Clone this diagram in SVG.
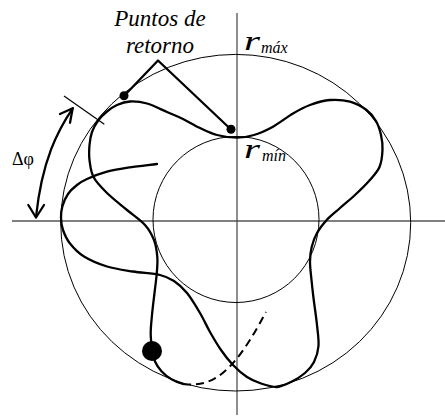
<svg xmlns="http://www.w3.org/2000/svg" width="445" height="417" viewBox="0 0 445 417">
<style>
.thin{fill:none;stroke:#000;stroke-width:1}
.thick{fill:none;stroke:#000;stroke-width:2.3;stroke-linecap:round;stroke-linejoin:round}
.dash{fill:none;stroke:#000;stroke-width:2;stroke-dasharray:8 5}
text{font-family:'Liberation Serif','Times New Roman',serif;fill:#000}
.lbl{font-style:italic}
</style>
<rect width="445" height="417" fill="#fff"/>
<g id="axes">
<line x1="12" y1="221" x2="445" y2="221" stroke="#7f7f7f" stroke-width="2"/>
<line x1="237" y1="13" x2="237" y2="415" stroke="#444" stroke-width="1.2"/>
</g>
<g id="circles">
<ellipse id="rmax-circle" class="thin" cx="235.7" cy="222.7" rx="175" ry="168.3"/>
<circle id="rmin-circle" class="thin" cx="236" cy="219.5" r="83"/>
</g>
<g id="orbit">
<path class="thick" d="M152,351 C151.6,345 150.7,339 150.7,333 S151.4,321.7 152,315 S153.7,299.8 154.5,293 S156.2,280 156.7,274 S157.8,262.7 157.3,257 S156.1,245.3 154,240 S149.5,230 145,225 S133.3,215.3 127,210 S112.6,198.5 107,193 S96.4,182.5 93.5,177 S90.2,165.3 89.5,160 S89.1,149.7 89.5,145 S90.5,136.2 92,132 S96,123.4 98.5,120 S103.9,114 107,111.5 S113.2,106.7 117,105 S125,101.75 130,101.5 S140.8,101.75 147,103.5 S161,109.4 167,112 S177.5,116.3 183,119 S194.3,125.3 200,128 S210.8,133.4 217,135 S230.8,137.7 237,137.7 S248,136.8 254,135 S266.5,130.3 273,126.7 S286.8,117.1 293,113.5 S303.8,107.25 310,105 S323.3,100.55 330,100 S343.9,100 350,101.7 S362.2,106.8 366.5,110 S373.6,116.8 376,121 S379.9,130.2 381,135 S382.75,144.7 382.5,150 S381.75,161.8 379.5,167 S373.1,176.3 369,181 S359.8,190.5 355,195 S344.7,203.8 340,208 S330.5,215.8 326.7,220 S319.5,228.5 317,233 S312.9,242.2 311.7,247 S310,256.5 310,262 S310.9,274 311.5,280 S312.6,290.5 313.5,298 S316.2,317 317,325 S319,339.8 318.5,346 S316.25,357.5 314,362 S308.8,369.7 305,373 S295.7,379.7 291,382 S282,386.75 277,387 S266,385.2 261,383.5 S251.7,380.1 247,377 S237.3,369.5 233,365 S224.8,355.5 221,350 S213.5,338.2 210,332 S203.8,319.5 200,313 S191.3,298.3 187,293 S178.5,284 174,281 S166.8,276.6 160,275 S141.8,272.9 133,271.5 S115.2,269 107,266.5 S90.2,260.3 84,256.5 S73.5,247.9 70,243.5 S64.5,234.25 63,230 S61.1,222 61,218 S61.3,210 62.5,206 S65.6,197.5 68,194 S73.8,187.5 77,185 S82,181.2 87,179 S99.8,173.65 107,171.7 S121.7,168.6 130,167.3 S148,165.1 157,164"/>
<path class="thick" d="M152,351 C154,366 165,379 183,384"/>
<path class="dash" d="M183,384 C215,388 235,370 266,312"/>
<circle cx="152" cy="351" r="10" fill="#000"/>
</g>
<g id="turning-points">
<polyline class="thick" points="124,96 158,60.5 231,129.5"/>
<circle cx="124" cy="95.7" r="4.5" fill="#000"/>
<circle cx="231" cy="129.3" r="4.5" fill="#000"/>
<text class="lbl" x="160" y="26" font-size="23" text-anchor="middle">Puntos de</text>
<text class="lbl" x="160" y="52.5" font-size="23" text-anchor="middle">retorno</text>
</g>
<g id="delta-phi">
<line x1="64" y1="96" x2="104.3" y2="124.3" stroke="#000" stroke-width="1.2"/>
<path class="thick" stroke-width="2.6" d="M72.7,108.3 C58,130 42,160 36,217"/>
<polyline class="thick" stroke-width="2.6" points="60,114 72.7,108.3 70,122.7"/>
<polyline class="thick" stroke-width="2.6" points="28.3,205 36,217.5 44,205"/>
<text x="12" y="165" font-size="18">Δφ</text>
</g>
<g id="labels">
<text class="lbl" x="244" y="50" font-size="28" textLength="16" lengthAdjust="spacingAndGlyphs">r</text>
<text class="lbl" x="261" y="52.5" font-size="16">máx</text>
<text class="lbl" x="244" y="158.3" font-size="28" textLength="16" lengthAdjust="spacingAndGlyphs">r</text>
<text class="lbl" x="262" y="161" font-size="16">mín</text>
</g>
</svg>
